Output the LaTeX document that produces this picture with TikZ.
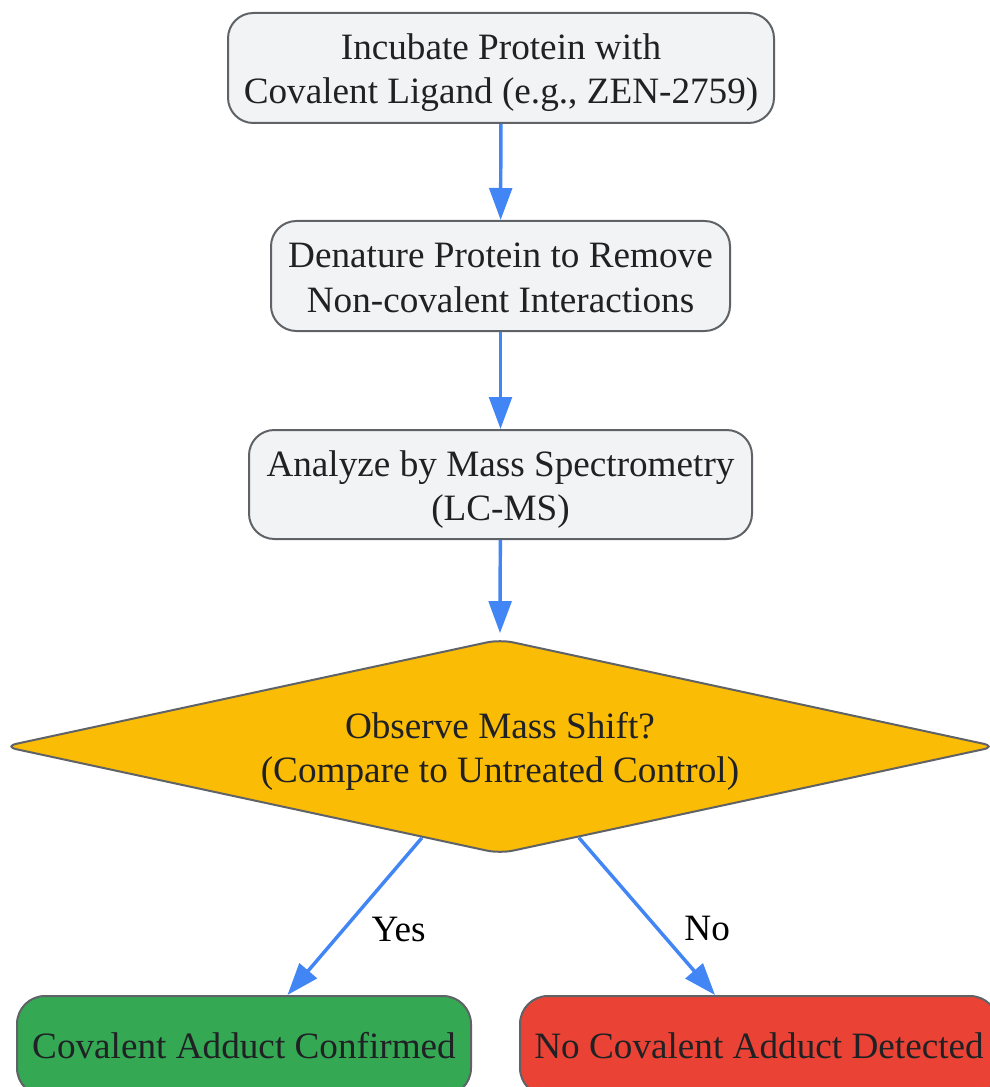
\documentclass[tikz,border=0pt]{standalone}
\usepackage{fontspec}
\setmainfont{Liberation Serif}
\usetikzlibrary{arrows.meta, shapes.geometric}
\definecolor{PaleGray}{HTML}{F1F3F4}
\definecolor{LineGray}{HTML}{5F6368}
\definecolor{Amber}{HTML}{FBBC05}
\definecolor{LeafGreen}{HTML}{34A853}
\definecolor{BrickRed}{HTML}{EA4335}
\definecolor{Blue}{HTML}{4285F4}
\definecolor{Ink}{HTML}{202124}

\begin{document}
\begin{tikzpicture}[x=0.75pt, y=-0.75pt, font=\fontsize{27.9}{33}\selectfont,
    stepbox/.style={draw=LineGray, line width=1.5pt, rounded corners=19pt, fill=PaleGray, text=Ink, align=center, inner sep=0pt},
    twoline/.style={text height=60pt, text depth=6pt},
    endbox/.style={stepbox, rounded corners=21pt},
    choice/.style={diamond, aspect=4.66, draw=LineGray, line width=1.5pt, rounded corners=10pt, fill=Amber, text=Ink, align=center, inner sep=0pt, minimum width=745pt, minimum height=161pt},
    flow/.style={draw=Blue, line width=2.6pt, -{Triangle[length=24pt, width=17pt]}}]
    \useasboundingbox (0, 0) rectangle (989, 1087);
    \node[stepbox, twoline, minimum width=409.5pt, minimum height=82.5pt] (incubate) at (501, 68) {Incubate Protein with\\Covalent Ligand (e.g., ZEN-2759)};
    \node[stepbox, twoline, minimum width=344.25pt, minimum height=82.5pt] (denature) at (500.5, 276) {Denature Protein to Remove\\Non-covalent Interactions};
    \node[stepbox, twoline, minimum width=377.25pt, minimum height=81.75pt] (analyze) at (500.5, 484.5) {Analyze by Mass Spectrometry\\(LC-MS)};
    \node[choice, twoline] (shift) at (500, 746.5) {Observe Mass Shift?\\(Compare to Untreated Control)};
    \node[endbox, fill=LeafGreen, minimum width=340.5pt, minimum height=75pt] (confirmed) at (244, 1046) {Covalent Adduct Confirmed};
    \node[endbox, fill=BrickRed, minimum width=358.5pt, minimum height=75pt] (none) at (759, 1046) {No Covalent Adduct Detected};
    \draw[flow] (incubate) -- (denature);
    \draw[flow] (denature) -- (analyze);
    \draw[flow] (analyze) -- ([yshift=3.75pt]shift.north);
    \draw[flow] (shift) -- node[pos=0.58, xshift=41pt] {Yes} (confirmed);
    \draw[flow] (shift) -- node[pos=0.58, xshift=37pt] {No} (none);
\end{tikzpicture}
\end{document}
